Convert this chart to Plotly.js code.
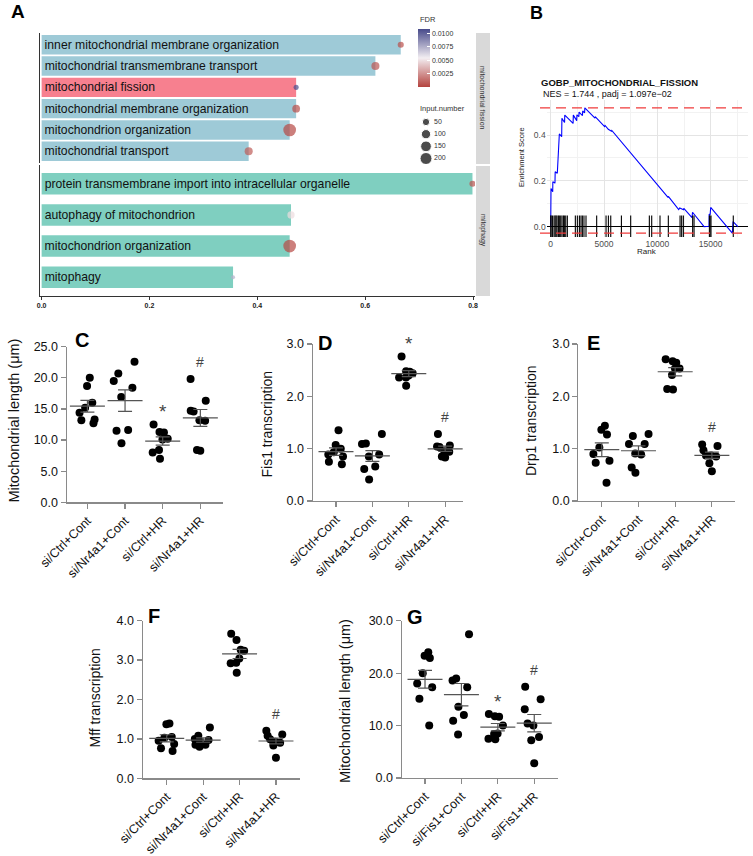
<!DOCTYPE html>
<html>
<head>
<meta charset="utf-8">
<script src="https://cdn.plot.ly/plotly-3.0.1.min.js"></script>
<style>body{margin:0;background:#fff} #fig{width:753px;height:856px}</style>
</head>
<body>
<div id="fig"></div>
<script>
// ---------- Panel A : GO enrichment (two facets) ----------
var fissionTerms = ["inner mitochondrial membrane organization", "mitochondrial transmembrane transport",
  "mitochondrial fission", "mitochondrial membrane organization", "mitochondrion organization",
  "mitochondrial transport"];
var fissionRatio = [0.666, 0.619, 0.472, 0.472, 0.460, 0.384];
var fissionFDR = [0.0004, 0.0006, 0.0107, 0.0003, 0.0002, 0.0008];
var fissionInput = [28, 68, 14, 60, 230, 68];

var mitophagyTerms = ["protein transmembrane import into intracellular organelle", "autophagy of mitochondrion",
  "mitochondrion organization", "mitophagy"];
var mitophagyRatio = [0.799, 0.4625, 0.460, 0.355];
var mitophagyFDR = [0.0005, 0.0048, 0.0002, 0.0074];
var mitophagyInput = [28, 50, 230, 5];

var sizeBreaks = [50, 100, 150, 200];
var fdrTicks = [0.0025, 0.005, 0.0075, 0.01];

// ---------- Panel B : GSEA running enrichment score ----------
var esRank = [0, 30, 190, 200, 400, 420, 620, 720, 760, 810, 1030, 1050, 1300, 1320, 2100, 2120, 2440, 2460,
  2640, 2660, 2980, 3000, 3180, 3200, 4150, 4170, 5050, 5100, 5400, 5700, 5730, 9300, 11000, 11030, 12000,
  12100, 12450, 12480, 13250, 13300, 14380, 14850, 14860, 14950, 15000, 17030, 17100, 17550];
var esScore = [0, 0.167, 0.153, 0.196, 0.190, 0.240, 0.233, 0.320, 0.315, 0.405, 0.393, 0.473, 0.455, 0.487,
  0.451, 0.487, 0.463, 0.488, 0.480, 0.500, 0.485, 0.505, 0.497, 0.519, 0.474, 0.480, 0.437, 0.442, 0.425,
  0.417, 0.420, 0.219, 0.128, 0.132, 0.075, 0.082, 0.074, 0.080, 0.040, 0.063, 0.000, 0.002, 0.055, 0.052,
  0.084, -0.028, 0.022, 0.000];
var hitRank = [10, 30, 160, 310, 410, 500, 590, 720, 810, 940, 1060, 1190, 1280, 1410, 1560, 2310, 2500, 2690,
  2840, 2970, 3120, 3310, 4310, 5190, 5410, 5630, 6630, 7500, 9250, 9470, 10250, 11030, 12130, 12280, 12440,
  13310, 13440, 14880, 14940, 15030, 17120];

// ---------- Panels C-G : dot plots ----------
var groupsNr4a1 = ["si/Ctrl+Cont", "si/Nr4a1+Cont", "si/Ctrl+HR", "si/Nr4a1+HR"];
var groupsFis1 = ["si/Ctrl+Cont", "si/Fis1+Cont", "si/Ctrl+HR", "si/Fis1+HR"];

var lengthNr4a1 = [[20.0, 18.7, 16.0, 15.2, 14.4, 13.3, 13.2, 12.7],
                   [22.6, 20.7, 19.5, 18.4, 16.9, 11.6, 11.5, 9.5],
                   [12.5, 11.3, 11.2, 10.2, 10.1, 8.4, 8.0, 7.0],
                   [19.8, 16.3, 14.7, 14.6, 13.2, 13.1, 8.4, 8.3]];
var fis1Trans = [[1.35, 1.07, 1.00, 0.93, 0.89, 0.85, 0.75, 0.70],
                 [1.28, 1.10, 1.09, 0.89, 0.85, 0.66, 0.61, 0.41],
                 [2.76, 2.48, 2.47, 2.44, 2.40, 2.36, 2.36, 2.20],
                 [1.28, 1.06, 1.04, 1.03, 0.95, 0.94, 0.85, 0.83]];
var drp1Trans = [[1.44, 1.36, 1.27, 1.02, 0.90, 0.77, 0.73, 0.35],
                 [1.28, 1.24, 1.09, 1.09, 0.91, 0.89, 0.64, 0.54],
                 [2.71, 2.67, 2.64, 2.53, 2.53, 2.41, 2.14, 2.13],
                 [1.08, 1.05, 0.97, 0.87, 0.87, 0.85, 0.72, 0.57]];
var mffTrans = [[1.39, 1.37, 1.05, 1.03, 0.95, 0.87, 0.76, 0.69],
                [1.29, 1.08, 1.00, 0.97, 0.93, 0.85, 0.85, 0.80],
                [3.67, 3.51, 3.26, 3.24, 3.04, 2.93, 2.92, 2.68],
                [1.21, 1.11, 1.08, 0.99, 0.93, 0.90, 0.83, 0.52]];
var lengthFis1 = [[24.0, 23.3, 22.9, 20.0, 18.0, 17.3, 15.1, 10.0],
                  [27.4, 19.0, 18.6, 17.3, 13.6, 12.0, 10.9, 8.3],
                  [12.2, 11.8, 11.7, 10.0, 8.5, 8.4, 7.5, 7.4],
                  [17.4, 15.0, 13.1, 10.4, 10.0, 7.8, 7.2, 2.8]];

var sigC = ["", "", "*", "#"];
var sigD = ["", "", "*", "#"];
var sigE = ["", "", "", "#"];
var sigF = ["", "", "", "#"];
var sigG = ["", "", "*", "#"];

// ---------- helpers ----------
var W = 753, H = 856;
function hdom(a, b) { return [a / W, b / W]; }
function vdom(top, bottom) { return [1 - bottom / H, 1 - top / H]; }
function dotSize(n) { return 2.6 + 0.665 * Math.sqrt(n); }
function mean(a) { return a.reduce(function (s, v) { return s + v; }, 0) / a.length; }
function sem(a) {
  var m = mean(a);
  var v = a.reduce(function (s, x) { return s + (x - m) * (x - m); }, 0) / (a.length - 1);
  return Math.sqrt(v / a.length);
}

var FONT = "Liberation Sans, Arial, Helvetica, sans-serif";
var fdrScale = [[0, "#B4433E"], [0.5, "#F3EEF2"], [1, "#474A8A"]];
var annotations = [];
var shapes = [];

function paperText(text, x, y, size, extra) {
  var a = {text: text, x: x / W, y: 1 - y / H, xref: "paper", yref: "paper", showarrow: false,
    font: {size: size, color: "#111", family: FONT}, xanchor: "center", yanchor: "middle"};
  for (var k in extra) a[k] = extra[k];
  annotations.push(a);
}

// ---------- Panel A traces ----------
var barColorsTop = fissionTerms.map(function (t) { return t === "mitochondrial fission" ? "#F7808F" : "#9ECAD7"; });

var data = [];
data.push({
  type: "bar", orientation: "h", x: fissionRatio, y: fissionTerms, xaxis: "x", yaxis: "y",
  width: 0.91, marker: {color: barColorsTop, line: {width: 0}},
  text: fissionTerms, textposition: "inside", insidetextanchor: "start", constraintext: "none",
  textfont: {size: 12.2, color: "#111", family: FONT}, hoverinfo: "x+y"
});
data.push({
  type: "bar", orientation: "h", x: mitophagyRatio, y: mitophagyTerms, xaxis: "x2", yaxis: "y2",
  width: 0.69, marker: {color: "#7FCFC0", line: {width: 0}},
  text: mitophagyTerms, textposition: "inside", insidetextanchor: "start", constraintext: "none",
  textfont: {size: 12.2, color: "#111", family: FONT}, hoverinfo: "x+y"
});
data.push({
  type: "scatter", mode: "markers", x: fissionRatio, y: fissionTerms, xaxis: "x", yaxis: "y",
  marker: {size: fissionInput.map(dotSize), color: fissionFDR, colorscale: fdrScale, cmin: 0, cmax: 0.0108,
    line: {width: 0}, showscale: true,
    colorbar: {x: 418 / W, xanchor: "left", xpad: 0, y: 1 - 29 / H, yanchor: "top", ypad: 0,
      len: 58, lenmode: "pixels", thickness: 12, thicknessmode: "pixels", outlinewidth: 0,
      tickvals: fdrTicks, ticktext: fdrTicks.map(function (v) { return v.toFixed(4); }),
      ticks: "inside", ticklen: 3, tickcolor: "#ffffff", tickfont: {size: 7, color: "#333", family: FONT},
      title: {text: ""}}}
});
data.push({
  type: "scatter", mode: "markers", x: mitophagyRatio, y: mitophagyTerms, xaxis: "x2", yaxis: "y2",
  marker: {size: mitophagyInput.map(dotSize), color: mitophagyFDR, colorscale: fdrScale, cmin: 0, cmax: 0.0108,
    line: {width: 0}, showscale: false}
});
// size legend
data.push({
  type: "scatter", mode: "markers", x: sizeBreaks.map(function () { return 0; }), y: sizeBreaks,
  xaxis: "x9", yaxis: "y9", marker: {size: sizeBreaks.map(dotSize), color: "#000"}, hoverinfo: "skip"
});
data.push({
  type: "scatter", mode: "text", x: sizeBreaks.map(function () { return 1; }), y: sizeBreaks,
  xaxis: "x9", yaxis: "y9", text: sizeBreaks.map(String), textposition: "middle right",
  textfont: {size: 7, color: "#333", family: FONT}, hoverinfo: "skip"
});

// facet strips
shapes.push({type: "rect", xref: "paper", yref: "paper", x0: 476 / W, x1: 490 / W, y0: 1 - 164 / H, y1: 1 - 33 / H,
  fillcolor: "#D9D9D9", line: {width: 0}, layer: "below"});
shapes.push({type: "rect", xref: "paper", yref: "paper", x0: 476 / W, x1: 490 / W, y0: 1 - 296 / H, y1: 1 - 166 / H,
  fillcolor: "#D9D9D9", line: {width: 0}, layer: "below"});
paperText("mitochondrial fission", 483, 98, 7, {textangle: 90, font: {size: 7, color: "#333", family: FONT}});
paperText("mitophagy", 483, 230, 7, {textangle: 90, font: {size: 7, color: "#333", family: FONT}});
paperText("FDR", 418, 20, 7.5, {xanchor: "left", font: {size: 7.5, color: "#333", family: FONT}});
paperText("Input.number", 418, 108.5, 7.5, {xanchor: "left", font: {size: 7.5, color: "#333", family: FONT}});

// ---------- Panel B traces ----------
data.push({
  type: "scatter", mode: "lines", x: esRank, y: esScore, xaxis: "x3", yaxis: "y3",
  line: {color: "#0000FF", width: 1.1}, hoverinfo: "x+y"
});
data.push({
  type: "scatter", mode: "markers", x: hitRank, y: hitRank.map(function () { return 0; }), xaxis: "x3", yaxis: "y3",
  marker: {symbol: "line-ns", size: 16, line: {width: 1.1, color: "#000"}}, hoverinfo: "x"
});
[Math.max.apply(null, esScore), Math.min.apply(null, esScore)].forEach(function (v) {
  shapes.push({type: "line", xref: "paper", yref: "y3", x0: 540 / W, x1: 748 / W, y0: v, y1: v,
    line: {color: "#F03B3B", width: 1.2, dash: "10px,6px"}});
});
paperText("<b>GOBP_MITOCHONDRIAL_FISSION</b>", 539.3, 82, 9.5, {xanchor: "left", font: {size: 9.5, color: "#111", family: FONT}});
paperText("NES = 1.744 , padj = 1.097e\u221202", 540.7, 94.3, 9, {xanchor: "left", font: {size: 9, color: "#111", family: FONT}});
paperText("Enrichment Score", 521.5, 157.5, 7.5, {textangle: -90, font: {size: 7.5, color: "#222", family: FONT}});
paperText("Rank", 646.7, 251.7, 8, {font: {size: 8, color: "#222", family: FONT}});

// ---------- Panels C-G traces ----------
function dotPanel(ax, groups, values, sig) {
  var xs = [], ys = [];
  values.forEach(function (g, i) { g.forEach(function (v) { xs.push(groups[i]); ys.push(v); }); });
  data.push({
    type: "box", x: xs, y: ys, xaxis: "x" + ax, yaxis: "y" + ax, boxpoints: "all", jitter: 1,
    pointpos: 0, width: 0.62, fillcolor: "rgba(0,0,0,0)", line: {width: 0, color: "rgba(0,0,0,0)"},
    marker: {color: "#000", size: 8}, hoverinfo: "y"
  });
  data.push({
    type: "scatter", mode: "markers", x: groups, y: values.map(mean), xaxis: "x" + ax, yaxis: "y" + ax,
    marker: {symbol: "line-ew", size: 25, line: {width: 1.2, color: "#555"}},
    error_y: {type: "data", array: values.map(sem), visible: true, color: "#555", thickness: 1.2, width: 7},
    hoverinfo: "y"
  });
  sig.forEach(function (s, i) {
    if (!s) return;
    annotations.push({text: s, x: groups[i], y: Math.max.apply(null, values[i]), xref: "x" + ax, yref: "y" + ax,
      showarrow: false, yanchor: "middle", yshift: s === "*" ? 13 : 17,
      font: {size: s === "*" ? 19 : 14, color: "#444", family: FONT}});
  });
}
dotPanel(4, groupsNr4a1, lengthNr4a1, sigC);
dotPanel(5, groupsNr4a1, fis1Trans, sigD);
dotPanel(6, groupsNr4a1, drp1Trans, sigE);
dotPanel(7, groupsNr4a1, mffTrans, sigF);
dotPanel(8, groupsFis1, lengthFis1, sigG);

paperText("Mitochondrial length (\u03bcm)", 13.5, 421, 14.5, {textangle: -90});
paperText("Fis1 transcription", 266.5, 424, 14, {textangle: -90});
paperText("Drp1 transcription", 531, 421, 14, {textangle: -90});
paperText("Mff transcription", 94, 698.5, 14, {textangle: -90});
paperText("Mitochondrial length (\u03bcm)", 345, 701, 14.5, {textangle: -90});

// panel letters
[["A", 17.5, 11.7, 19], ["B", 536, 13, 18], ["C", 81.5, 340, 20], ["D", 325, 343.5, 20],
 ["E", 593, 343, 20], ["F", 154, 616, 20], ["G", 415.5, 616.5, 20]].forEach(function (p) {
  paperText("<b>" + p[0] + "</b>", p[1], p[2], p[3], {font: {size: p[3], color: "#000", family: FONT}});
});

// ---------- axes ----------
function catAxis(dom, range, anchor) {
  return {domain: dom, range: range, anchor: anchor, type: "category", showline: true, linecolor: "#8a8a8a",
    linewidth: 1.2, ticks: "outside", ticklen: 5, tickcolor: "#8a8a8a", tickwidth: 1.2, tickangle: -45,
    tickfont: {size: 12.5, color: "#111", family: FONT}, showgrid: false, zeroline: false};
}
function valAxis(dom, range, dtick, anchor) {
  return {domain: dom, range: range, anchor: anchor, dtick: dtick, tick0: 0, tickformat: ".1f", showline: true,
    linecolor: "#8a8a8a", linewidth: 1.2, ticks: "outside", ticklen: 5, tickcolor: "#8a8a8a", tickwidth: 1.2,
    tickfont: {size: 12.5, color: "#111", family: FONT}, showgrid: false, zeroline: false};
}

var layout = {
  width: W, height: H, margin: {l: 0, r: 0, t: 0, b: 0}, paper_bgcolor: "#fff", plot_bgcolor: "rgba(0,0,0,0)",
  showlegend: false, font: {family: FONT, color: "#111"},
  // Panel A
  xaxis: {domain: hdom(40, 475), range: [-0.003, 0.8037], anchor: "y", showline: false, showticklabels: false,
    ticks: "", showgrid: false, zeroline: false},
  yaxis: {domain: vdom(33, 163), anchor: "x", type: "category", categoryorder: "array", categoryarray: fissionTerms,
    range: [5.55, -0.55], showline: true, linecolor: "#333", linewidth: 1, showticklabels: false, ticks: "",
    showgrid: false, zeroline: false},
  xaxis2: {domain: hdom(40, 475), range: [-0.003, 0.8037], anchor: "y2", showline: true, linecolor: "#333",
    linewidth: 1, ticks: "outside", ticklen: 3, tickcolor: "#333", dtick: 0.2, tick0: 0, tickformat: ".1f",
    tickfont: {size: 7, color: "#222", family: FONT, weight: "bold"}, showgrid: false, zeroline: false},
  yaxis2: {domain: vdom(165, 296), anchor: "x2", type: "category", categoryorder: "array",
    categoryarray: mitophagyTerms, range: [3.6, -0.6], showline: true, linecolor: "#333", linewidth: 1,
    showticklabels: false, ticks: "", showgrid: false, zeroline: false},
  // Panel B
  xaxis3: {domain: hdom(546.7, 748), range: [-375, 18500], anchor: "y3", tickvals: [0, 5000, 10000, 15000],
    tickformat: "d", ticks: "", showline: false, zeroline: false, showgrid: true, gridcolor: "#E4E4E4", gridwidth: 1,
    minor: {dtick: 2500, tick0: 0, showgrid: true, gridcolor: "#F2F2F2"},
    tickfont: {size: 8.5, color: "#4D4D4D", family: FONT}},
  yaxis3: {domain: vdom(100, 237), range: [-0.045, 0.553], anchor: "x3", dtick: 0.2, tick0: 0, tickformat: ".1f",
    ticks: "", showline: false, showgrid: true, gridcolor: "#E4E4E4", gridwidth: 1,
    minor: {dtick: 0.1, tick0: 0, showgrid: true, gridcolor: "#F2F2F2"},
    zeroline: true, zerolinecolor: "#000", zerolinewidth: 1.2,
    tickfont: {size: 8.5, color: "#4D4D4D", family: FONT}},
  // Panels C-G
  xaxis4: catAxis(hdom(66.7, 223.3), [-0.55, 3.61], "y4"),
  yaxis4: valAxis(vdom(346.7, 502.3), [0, 25], 5, "x4"),
  xaxis5: catAxis(hdom(312.7, 463), [-0.64, 3.49], "y5"),
  yaxis5: valAxis(vdom(344, 501), [0, 3], 1, "x5"),
  xaxis6: catAxis(hdom(578.3, 735), [-0.64, 3.63], "y6"),
  yaxis6: valAxis(vdom(344, 501), [0, 3], 1, "x6"),
  xaxis7: catAxis(hdom(142.7, 300), [-0.66, 3.66], "y7"),
  yaxis7: valAxis(vdom(620.7, 778.3), [0, 4], 1, "x7"),
  xaxis8: catAxis(hdom(401.7, 558.3), [-0.64, 3.66], "y8"),
  yaxis8: valAxis(vdom(620.7, 778), [0, 30], 10, "x8"),
  // size legend
  xaxis9: {domain: hdom(418, 450), range: [-1, 3], anchor: "y9", visible: false},
  yaxis9: {domain: vdom(116, 164), range: [222.6, 25.3], anchor: "x9", visible: false},
  annotations: annotations,
  shapes: shapes
};

Plotly.newPlot("fig", data, layout, {displayModeBar: false, staticPlot: true});
</script>
</body>
</html>
